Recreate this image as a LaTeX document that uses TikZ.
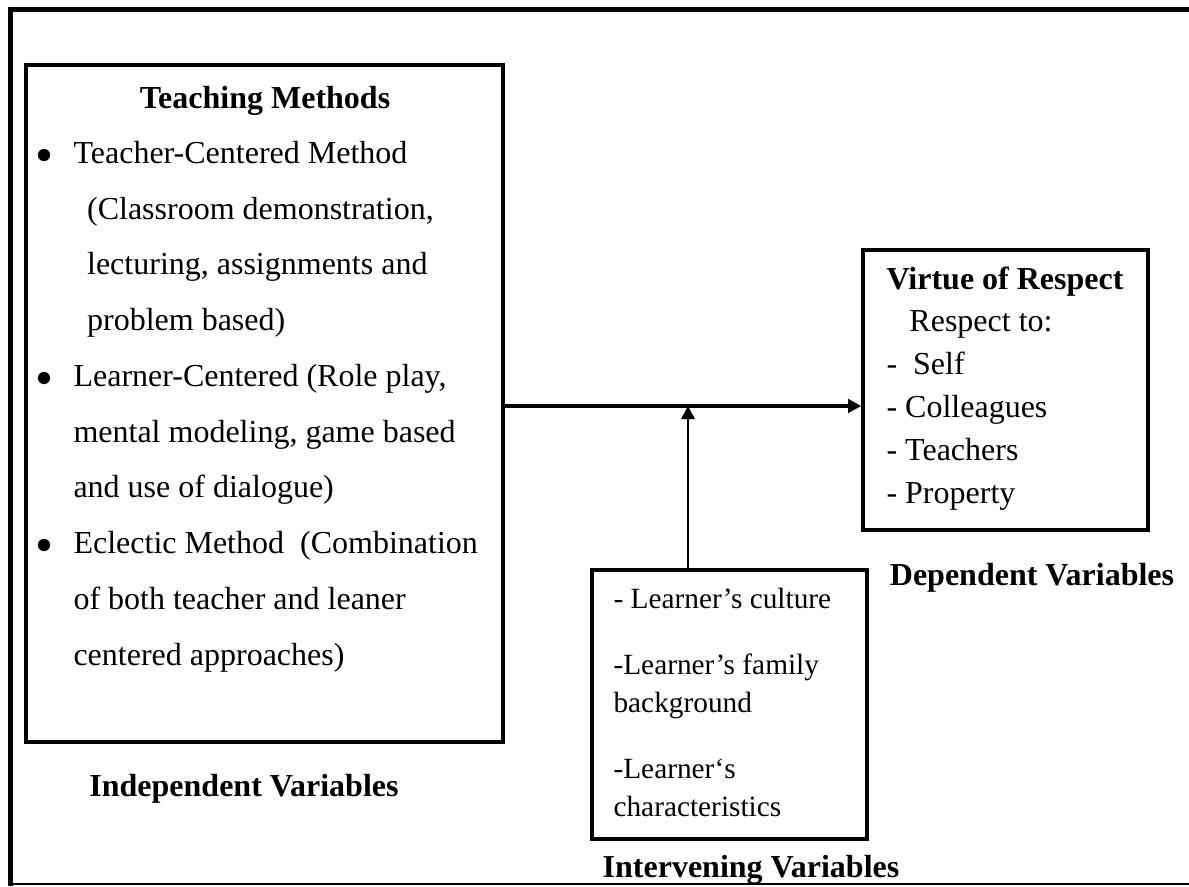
\documentclass[tikz,border=0pt]{standalone}
\usepackage{fontspec}
\setmainfont{Liberation Serif}
\usetikzlibrary{arrows.meta}
\newcommand{\listbullet}{\makebox[13.5pt][l]{\hspace*{-0.5pt}$\bullet$}}
\tikzset{
    varbox/.style   = {draw, line width = 1.3pt, inner sep = 0pt},
    vartext/.style  = {inner sep = 0pt, align = left},
    varlabel/.style = {inner sep = 0pt, font = \fontsize{12}{14.4}\selectfont\bfseries},
    link/.style     = {line width = 1.2pt, -{Triangle[length = 4.9pt, width = 5pt]}},
}

\begin{document}
\begin{tikzpicture}[x = 0.375pt, y = -0.375pt, font = \fontsize{12}{14.4}\selectfont]
    \useasboundingbox (0, 0) rectangle (1189, 886);

    \draw[line width = 1.9pt] (1189, 9.5) -- (10.5, 9.5) -- (10.5, 886);
    \draw[line width = 0.8pt] (10.5, 884) -- (1189, 884);

    \node (methods) at (264.5, 403.5) [varbox, minimum width = 477*0.375pt, minimum height = 677*0.375pt] {};
    \node (respect) at (1005.5, 390)  [varbox, minimum width = 285*0.375pt, minimum height = 280*0.375pt] {};
    \node (factors) at (729.5, 704.5) [varbox, minimum width = 275*0.375pt, minimum height = 269*0.375pt] {};

    \node (methodsTitle) at (265, 108) [varlabel, anchor = base] {Teaching Methods};
    \node (methodsList) at (37, 665) [vartext, anchor = base west, font = \fontsize{12}{20.9}\selectfont] {
        \listbullet Teacher-Centered Method\\
        \hspace*{18.6pt}(Classroom demonstration,\\
        \hspace*{18.6pt}lecturing, assignments and\\
        \hspace*{18.6pt}problem based)\\
        \listbullet Learner-Centered (Role play,\\
        \hspace*{13.5pt}mental modeling, game based\\
        \hspace*{13.5pt}and use of dialogue)\\
        \listbullet Eclectic Method\ \ (Combination\\
        \hspace*{13.5pt}of both teacher and leaner\\
        \hspace*{13.5pt}centered approaches)
    };

    \node (respectList) at (886, 503) [vartext, anchor = base west, font = \fontsize{12}{16.05}\selectfont] {
        \textbf{Virtue of Respect}\\
        \hspace*{8.6pt}Respect to:\\
        -\ \ Self\\
        - Colleagues\\
        - Teachers\\
        - Property
    };

    \node (factorsList) at (613, 816) [vartext, anchor = base west, font = \fontsize{11}{14.25}\selectfont] {
        - Learner’s culture\\[10.5pt]
        -Learner’s family\\
        background\\[10.5pt]
        -Learner‘s\\
        characteristics
    };

    \node (independent) at (244, 796)  [varlabel, anchor = base] {Independent Variables};
    \node (dependent)   at (1032, 585) [varlabel, anchor = base] {Dependent Variables};
    \node (intervening) at (751, 877)  [varlabel, anchor = base] {Intervening Variables};

    \coordinate (joint) at (688, 406);
    \draw[link] (methods.east |- joint) -- (respect.west |- joint);
    \draw[link, line width = 1pt] (factors.north -| joint) -- (joint);
\end{tikzpicture}
\end{document}
